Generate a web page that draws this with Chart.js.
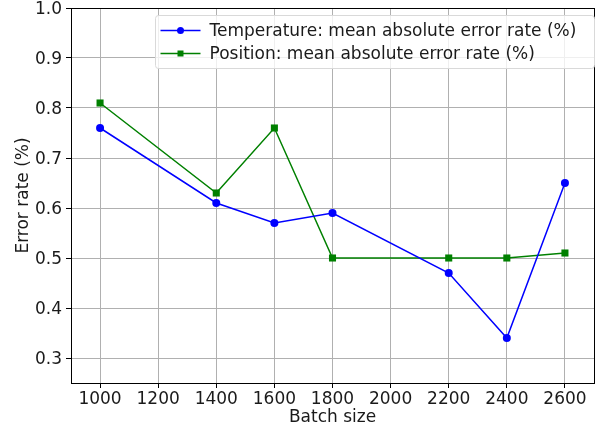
<!DOCTYPE html>
<html>
<head>
<meta charset="utf-8">
<script src="https://cdn.jsdelivr.net/npm/chart.js@4"></script>
<style>
  html, body { margin: 0; padding: 0; background: #fff; }
  #wrap { width: 603px; height: 432px; }
</style>
</head>
<body>
<div id="wrap"><canvas id="c" width="603" height="432"></canvas></div>
<script>
// Batch sizes tested and the resulting error rates
const batchSizes = [1000, 1400, 1600, 1800, 2200, 2400, 2600];
const temperatureErr = [0.76, 0.61, 0.57, 0.59, 0.47, 0.34, 0.65];
const positionErr = [0.81, 0.63, 0.76, 0.50, 0.50, 0.50, 0.51];
const xTicks = [1000, 1200, 1400, 1600, 1800, 2000, 2200, 2400, 2600];
const yTicks = [0.3, 0.4, 0.5, 0.6, 0.7, 0.8, 0.9, 1.0];
const seriesNames = [
  'Temperature: mean absolute error rate (%)',
  'Position: mean absolute error rate (%)'
];

const FONT = 'DejaVu Sans';
const FSIZE = 17;

function toPoints(xs, ys) {
  return xs.map((x, i) => ({ x: x, y: ys[i] }));
}

// Frame around the plot area plus an in-plot legend box
const framePlugin = {
  id: 'frame',
  afterDraw(chart) {
    const { ctx, chartArea: a } = chart;
    ctx.save();
    ctx.strokeStyle = '#000';
    ctx.lineWidth = 1;
    ctx.strokeRect(a.left + 0.5, a.top + 0.5, a.right - a.left, a.bottom - a.top);

    // legend
    const bx = 155.5, by = 15.5, bw = 439, bh = 53;
    ctx.fillStyle = 'rgba(255,255,255,0.8)';
    ctx.strokeStyle = '#d9d9d9';
    ctx.beginPath();
    ctx.roundRect(bx, by, bw, bh, 3);
    ctx.fill();
    ctx.stroke();
    ctx.font = FSIZE + 'px "' + FONT + '"';
    ctx.textBaseline = 'middle';
    chart.data.datasets.forEach((ds, i) => {
      const y = by + 15 + i * 23;
      ctx.strokeStyle = ds.borderColor;
      ctx.lineWidth = 1.5;
      ctx.beginPath();
      ctx.moveTo(bx + 5, y);
      ctx.lineTo(bx + 45, y);
      ctx.stroke();
      ctx.fillStyle = ds.backgroundColor;
      if (ds.pointStyle === 'rect') {
        ctx.fillRect(bx + 25 - 3, y - 3, 6, 6);
      } else {
        ctx.beginPath();
        ctx.arc(bx + 25, y, 3.5, 0, Math.PI * 2);
        ctx.fill();
      }
      ctx.fillStyle = '#1a1a1a';
      ctx.fillText(ds.label, bx + 54, y + 1);
    });
    ctx.restore();
  }
};

new Chart(document.getElementById('c'), {
  type: 'line',
  data: {
    datasets: [
      {
        label: seriesNames[0],
        data: toPoints(batchSizes, temperatureErr),
        borderColor: '#0000ff',
        backgroundColor: '#0000ff',
        borderWidth: 1.5,
        pointStyle: 'circle',
        pointRadius: 4,
        pointBorderWidth: 0,
        tension: 0
      },
      {
        label: seriesNames[1],
        data: toPoints(batchSizes, positionErr),
        borderColor: '#008000',
        backgroundColor: '#008000',
        borderWidth: 1.5,
        pointStyle: 'rect',
        pointRadius: 5,
        pointBorderWidth: 0,
        tension: 0
      }
    ]
  },
  options: {
    responsive: false,
    animation: false,
    events: [],
    layout: { padding: { top: 8, right: 9, left: 13, bottom: 4 } },
    plugins: { legend: { display: false }, tooltip: { enabled: false } },
    scales: {
      x: {
        type: 'linear',
        min: 900,
        max: 2700,
        afterBuildTicks(s) { s.ticks = xTicks.map(v => ({ value: v })); },
        afterFit(s) { s.height = 45; s.paddingLeft = 0; s.paddingRight = 0; },
        grid: { color: '#b0b0b0', lineWidth: 1, tickColor: '#000', tickLength: 5 },
        border: { display: false },
        ticks: { color: '#1a1a1a', font: { family: FONT, size: FSIZE }, padding: 1, maxRotation: 0, autoSkip: false, callback: v => String(v) },
        title: { display: true, text: 'Batch size', color: '#1a1a1a', font: { family: FONT, size: FSIZE }, padding: { top: 0, bottom: 0 } }
      },
      y: {
        type: 'linear',
        min: 0.25,
        max: 1.0,
        afterBuildTicks(s) { s.ticks = yTicks.map(v => ({ value: v })); },
        afterFit(s) { s.width = 58; s.paddingTop = 0; s.paddingBottom = 0; },
        grid: { color: '#b0b0b0', lineWidth: 1, tickColor: '#000', tickLength: 5 },
        border: { display: false },
        ticks: { color: '#1a1a1a', font: { family: FONT, size: FSIZE }, padding: 4, labelOffset: 2, callback: v => v.toFixed(1) },
        title: { display: true, text: 'Error rate (%)', color: '#1a1a1a', font: { family: FONT, size: FSIZE }, padding: { top: 0, bottom: 0 } }
      }
    }
  },
  plugins: [framePlugin]
});
</script>
</body>
</html>
